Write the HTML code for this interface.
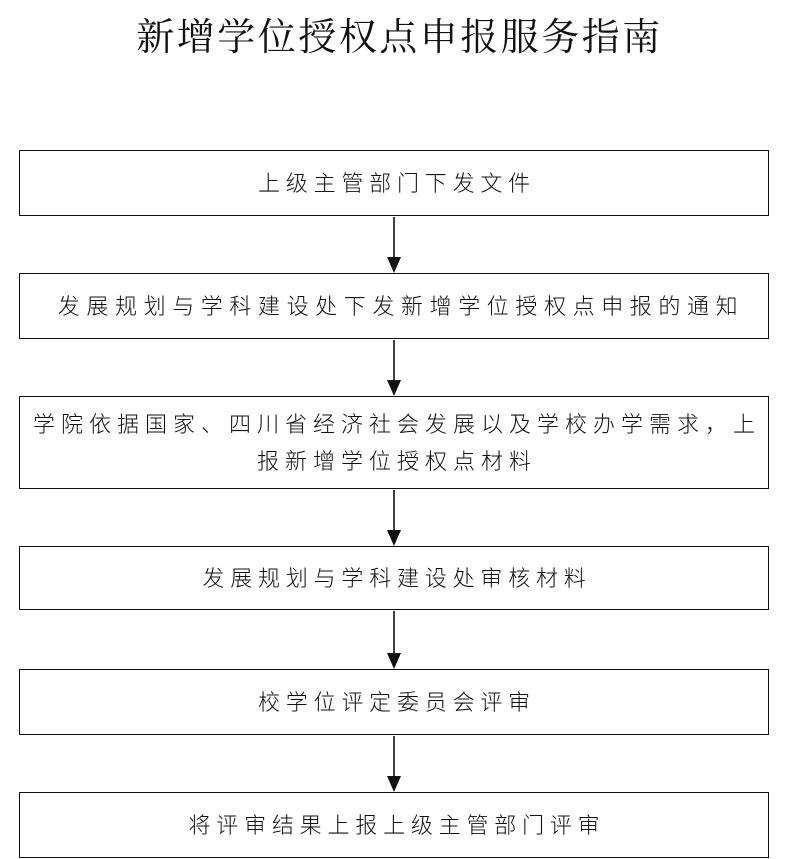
<!DOCTYPE html>
<html><head><meta charset="utf-8"><style>
body{margin:0;width:799px;height:859px;background:#fff;position:relative;overflow:hidden;font-family:"Liberation Sans","Noto Sans CJK SC",sans-serif;color:#111}
.t{position:absolute;left:0;width:799px;top:13px;text-align:center;font-size:38px;letter-spacing:2.5px;line-height:50px;font-family:"Liberation Serif","Noto Serif CJK SC",serif}
.b{position:absolute;left:19px;width:748px;border:1.6px solid #111;display:flex;align-items:center;justify-content:center;text-align:center;font-size:22px;letter-spacing:5.8px;font-weight:300;line-height:37px;box-sizing:content-box}
.b span{padding-left:6px}
svg{position:absolute;left:0;top:0}
</style></head><body>
<div class="t">新增学位授权点申报服务指南</div>
<div class="b" style="top:150px;height:64px"><span>上级主管部门下发文件</span></div>
<div class="b" style="top:273px;height:64px;letter-spacing:6.6px"><span style="padding-left:14px">发展规划与学科建设处下发新增学位授权点申报的通知</span></div>
<div class="b" style="top:396px;height:91px;letter-spacing:6px"><span>学院依据国家、四川省经济社会发展以及学校办学需求，上<br>报新增学位授权点材料</span></div>
<div class="b" style="top:546px;height:62px"><span>发展规划与学科建设处审核材料</span></div>
<div class="b" style="top:669px;height:64px"><span>校学位评定委员会评审</span></div>
<div class="b" style="top:792px;height:64px"><span>将评审结果上报上级主管部门评审</span></div>
<svg width="799" height="859">
<g stroke="#111" stroke-width="1.6" fill="#111">
<line x1="394" y1="217" x2="394" y2="258"/><polygon points="387,257 401,257 394,273" stroke="none"/>
<line x1="394" y1="340" x2="394" y2="381"/><polygon points="387,380 401,380 394,396" stroke="none"/>
<line x1="394" y1="490" x2="394" y2="531"/><polygon points="387,530 401,530 394,546" stroke="none"/>
<line x1="394" y1="611" x2="394" y2="654"/><polygon points="387,653 401,653 394,669" stroke="none"/>
<line x1="394" y1="736" x2="394" y2="777"/><polygon points="387,776 401,776 394,792" stroke="none"/>
</g></svg>
</body></html>
